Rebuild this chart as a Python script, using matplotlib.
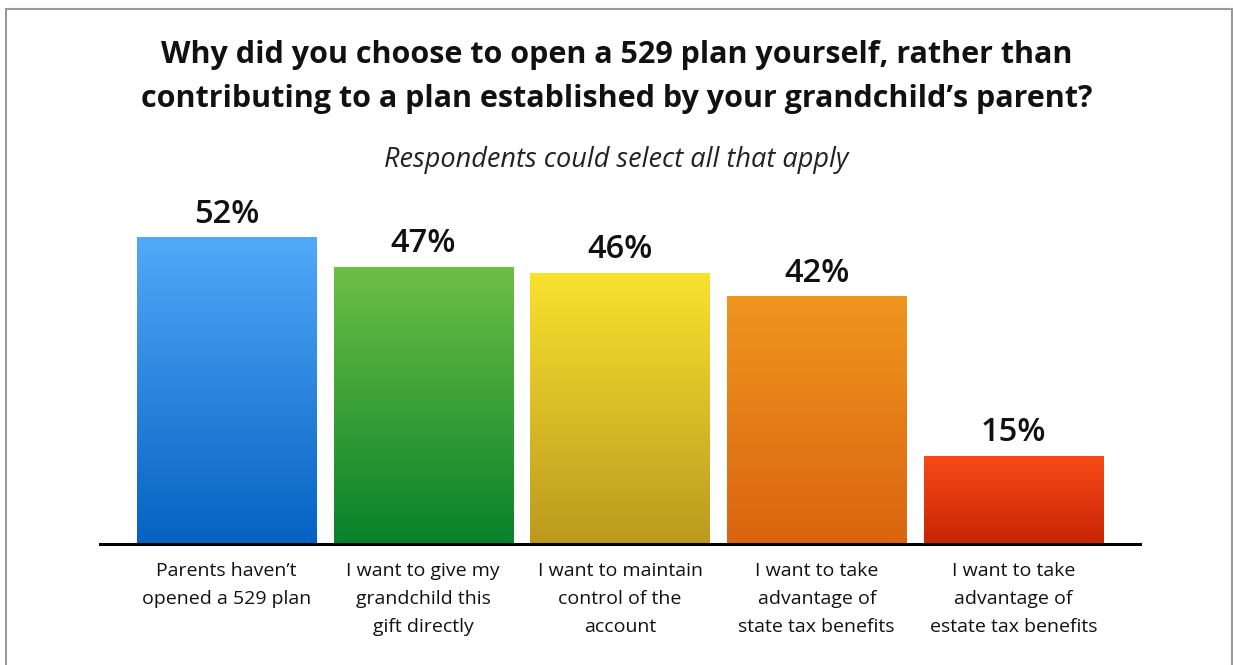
import matplotlib
matplotlib.use("Agg")
import matplotlib.pyplot as plt
import numpy as np
from matplotlib.colors import LinearSegmentedColormap
from matplotlib.patches import Rectangle

categories = ["Parents haven\u2019t\nopened a 529 plan",
              "I want to give my\ngrandchild this\ngift directly",
              "I want to maintain\ncontrol of the\naccount",
              "I want to take\nadvantage of\nstate tax benefits",
              "I want to take\nadvantage of\nestate tax benefits"]
values = [52, 47, 46, 42, 15]
labels = ["52%", "47%", "46%", "42%", "15%"]
top_colors = ["#53A9F9", "#6EBF45", "#F9E22E", "#EF961E", "#F94B17"]
bottom_colors = ["#0562C2", "#08822A", "#BC991F", "#DB6410", "#C72405"]

FONT = "Open Sans"

fig = plt.figure(figsize=(12.33, 6.65), dpi=100)
fig.patch.set_facecolor("white")

frame = Rectangle((6/1233, -0.05), (1232-6)/1233, 1.05 - 9/665, transform=fig.transFigure,
                  fill=False, edgecolor="#9a9a9a", linewidth=1.5)
fig.add_artist(frame)

ax = fig.add_axes([100/1233, 121/665, 1040/1233, 354/665])
width = 0.91
x = np.arange(len(values))
bars = ax.bar(x, values, width=width, color="none", edgecolor="none")
grad = np.linspace(0, 1, 256).reshape(-1, 1)
for b, tc, bc, v, lab in zip(bars, top_colors, bottom_colors, values, labels):
    cmap = LinearSegmentedColormap.from_list("g", [bc, tc])
    x0, w, h = b.get_x(), b.get_width(), b.get_height()
    im = ax.imshow(grad, cmap=cmap, origin="lower", aspect="auto",
                   extent=[x0, x0 + w, 0, h], zorder=2)
    im.set_clip_path(b)
    ax.text(x0 + w / 2, h + 1.1, lab, ha="center", va="bottom",
            fontsize=23.5, fontweight="semibold", family=FONT, color="#111111")
ax.set_xlim(-0.643, 4.643)
ax.set_ylim(0, 60)

for s in ["top", "right", "left"]:
    ax.spines[s].set_visible(False)
ax.spines["bottom"].set_linewidth(2.2)
ax.spines["bottom"].set_color("black")
ax.set_yticks([])
ax.set_xticks(x)
ax.set_xticklabels(categories, fontsize=14, family=FONT, linespacing=1.7, color="#111111")
ax.tick_params(axis="x", length=0, pad=13)

fig.text(0.5, 1 - 77/665, "Why did you choose to open a 529 plan yourself, rather than\n"
         "contributing to a plan established by your grandchild\u2019s parent?",
         ha="center", va="center", fontsize=22, fontweight="bold", family=FONT,
         linespacing=1.62, color="#111111")
fig.text(0.5, 1 - 160/665, "Respondents could select all that apply", ha="center", va="center",
         fontsize=19.5, style="italic", family=FONT, color="#222222")

fig.savefig("out.png", dpi=100, facecolor="white")
